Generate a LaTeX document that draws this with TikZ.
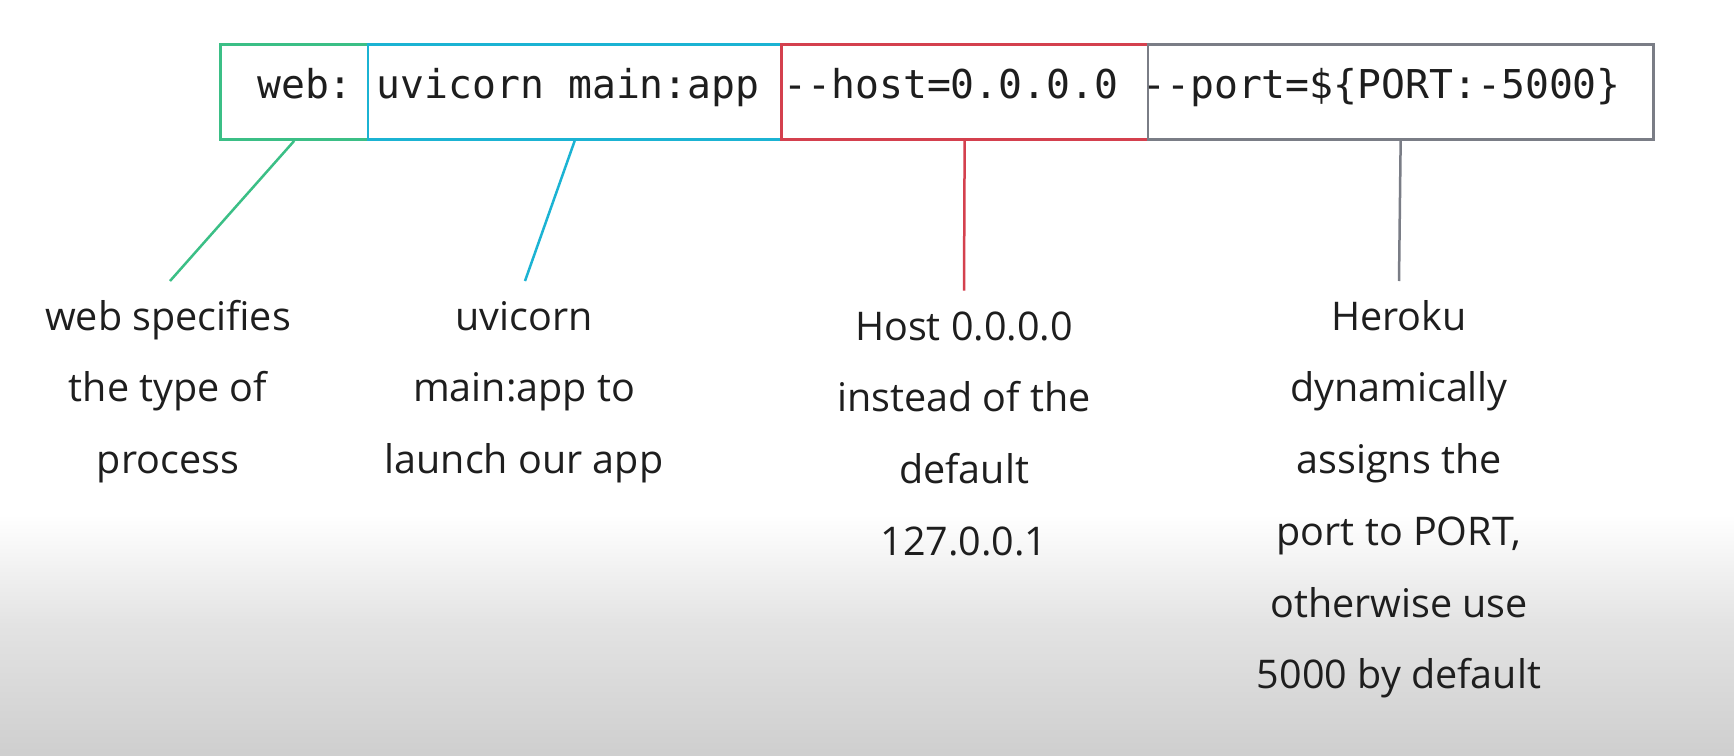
\documentclass[tikz,border=0pt]{standalone}
\usepackage{fontspec}
\setmainfont{Open Sans}
\setmonofont{DejaVu Sans Mono}
\definecolor{cgreen}{HTML}{3BBF86}
\definecolor{ccyan}{HTML}{1BB3D3}
\definecolor{cred}{HTML}{D4404E}
\definecolor{cgray}{HTML}{7A7D86}
\definecolor{ctext}{HTML}{1E1E1E}
\tikzset{
  segbox/.style={draw=#1, line width=2.6pt, inner sep=0pt, minimum height=95pt, anchor=north west},
  lead/.style={draw=#1, line width=2.5pt},
  label/.style={anchor=north, inner sep=0pt, align=center, text=ctext,
    font=\fontsize{39.5pt}{71.7pt}\selectfont},
  code/.style={anchor=base west, inner sep=0pt, text=ctext,
    font=\ttfamily\fontsize{39.74pt}{48pt}\selectfont}
}
\begin{document}
\begin{tikzpicture}[x=1pt,y=-1pt]
\useasboundingbox (0,0) rectangle (1734,755);
\fill[white] (0,0) rectangle (1734,755);
\shade[top color=white, bottom color=black!11] (0,515) rectangle (1734,625);
\shade[top color=black!11, bottom color=black!19] (0,625) rectangle (1734,755);
% segment boxes
\node[segbox=cgreen, minimum width=147.7pt] (bweb) at (219,43.3) {};
\node[segbox=ccyan, minimum width=413.3pt] (buvi) at (366.7,43.3) {};
\node[segbox=cred, minimum width=366.7pt] (bhost) at (780,43.3) {};
\node[segbox=cgray, minimum width=505.3pt] (bport) at (1146.7,43.3) {};
% command text
\node[code] (cmd) at (257,98) {web: uvicorn main:app --host=0.0.0.0 --port=\$\{PORT:-5000\}};
% leader ends
\coordinate (eweb) at (170,281);
\coordinate (euvi) at (525,281);
\coordinate (ehost) at (964,290.7);
\coordinate (eport) at (1399,281);
\draw[lead=cgreen] (bweb.south) -- (eweb);
\draw[lead=ccyan] (buvi.south) -- (euvi);
\draw[lead=cred] (bhost.south) -- (ehost);
\draw[lead=cgray] (bport.south) -- (eport);
% labels
\node[label] (lweb) at (168,279.8) {\strut web specifies\\the type of\\process};
\node[label] (luvi) at (524,279.8) {\strut uvicorn\\main:app to\\launch our app};
\node[label] (lhost) at (964,289.8) {\strut Host 0.0.0.0\\instead of the\\default\\127.0.0.1};
\node[label] (lport) at (1399,279.8) {\strut Heroku\\dynamically\\assigns the\\port to PORT,\\otherwise use\\5000 by default};
\end{tikzpicture}
\end{document}
